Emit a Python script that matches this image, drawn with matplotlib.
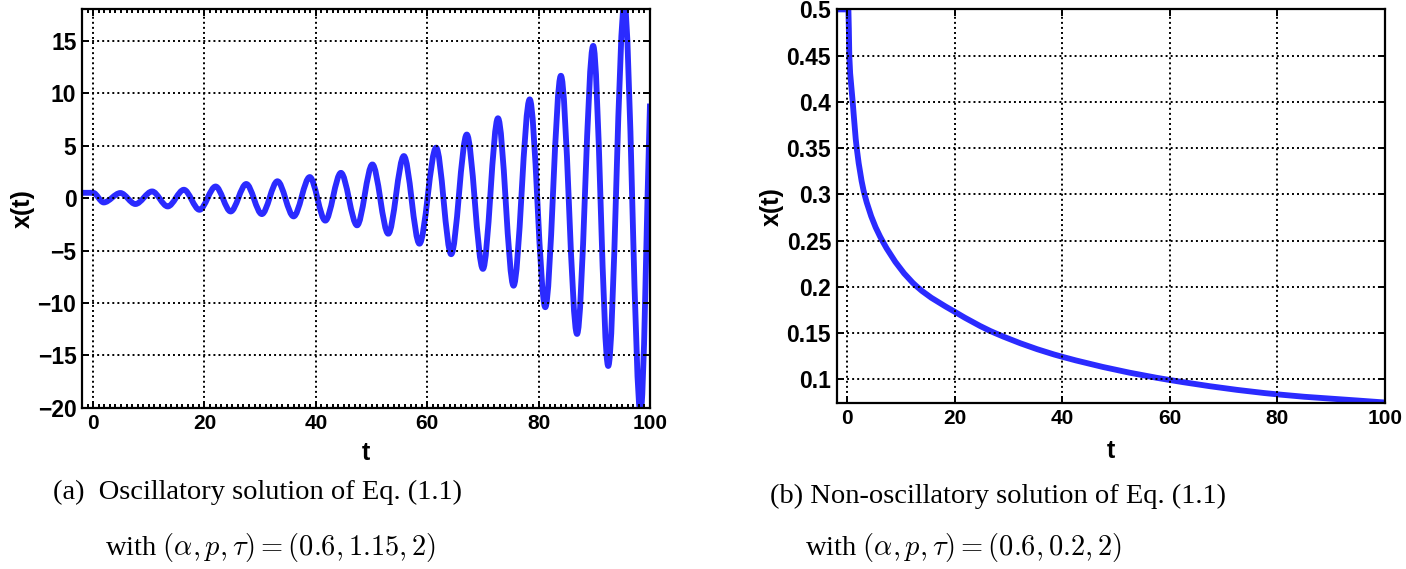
import matplotlib

matplotlib.use("Agg")

import matplotlib.pyplot as plt
import numpy as np
from matplotlib.patches import PathPatch
from matplotlib.path import Path
from matplotlib.ticker import MultipleLocator

# (a) oscillatory solution: turning points
osc_t = [-2, 0, 1.9, 4.9, 7.6, 10.6, 13.4, 16.3, 19.1, 22.0, 24.7, 27.5, 30.3,
         33.1, 36.0, 38.9, 41.7, 44.5, 47.4, 50.15, 53.0, 55.8, 58.6, 61.6,
         64.3, 67.1, 70.0, 72.7, 75.5, 78.4, 81.2, 84.0, 86.9, 89.8, 92.5,
         95.4, 98.3, 100]
osc_x = [0.5, 0.5, -0.42, 0.48, -0.57, 0.63, -0.8, 0.79, -1.12, 1.1, -1.28,
         1.34, -1.53, 1.6, -1.75, 2.0, -2.15, 2.4, -2.6, 3.2, -3.4, 4.0, -4.35,
         4.8, -5.35, 6.05, -6.75, 7.6, -8.35, 9.4, -10.4, 11.65, -12.95, 14.5,
         -16.0, 18.5, -20.5, 9.0]

# (b) non-oscillatory solution
non_t = [-2, 0.2, 0.37, 1.0, 1.75, 3.2, 6.5, 13, 20, 27.5, 40, 60, 80, 100]
non_x = [0.5, 0.5, 0.45, 0.4, 0.35, 0.3, 0.25, 0.2, 0.173, 0.15, 0.1244,
         0.0993, 0.0838, 0.075]

osc_yticks = [-20, -15, -10, -5, 0, 5, 10, 15]
non_yticks = [0.1, 0.15, 0.2, 0.25, 0.3, 0.35, 0.4, 0.45, 0.5]
non_ylabels = ["0.1", "0.15", "0.2", "0.25", "0.3", "0.35", "0.4", "0.45", "0.5"]
xticks = [0, 20, 40, 60, 80, 100]

LINE_COLOR = "#2b2bff"
SANS = "Liberation Sans"
LABEL_FONT = {"family": SANS, "weight": "bold", "size": 18}
CAPTION_FONT = {"family": "Liberation Serif", "size": 20.5}

plt.rcParams["mathtext.fontset"] = "cm"


def smooth_path(xs, ys):
    # monotone cubic (pchip-style) tangents, drawn as bezier segments
    x = np.asarray(xs, dtype=float)
    y = np.asarray(ys, dtype=float)
    h = np.diff(x)
    d = np.diff(y) / h
    m = np.zeros_like(x)
    m[0] = d[0]
    m[-1] = d[-1]
    for k in range(1, len(x) - 1):
        if d[k - 1] * d[k] > 0:
            w1 = 2 * h[k] + h[k - 1]
            w2 = h[k] + 2 * h[k - 1]
            m[k] = (w1 + w2) / (w1 / d[k - 1] + w2 / d[k])

    verts = [(x[0], y[0])]
    codes = [Path.MOVETO]
    for k in range(len(x) - 1):
        step = h[k] / 3
        verts += [
            (x[k] + step, y[k] + m[k] * step),
            (x[k + 1] - step, y[k + 1] - m[k + 1] * step),
            (x[k + 1], y[k + 1]),
        ]
        codes += [Path.CURVE4] * 3
    return Path(verts, codes)


def draw_curve(ax, xs, ys):
    patch = PathPatch(smooth_path(xs, ys), facecolor="none",
                      edgecolor=LINE_COLOR, linewidth=4.2,
                      joinstyle="round", capstyle="butt")
    ax.add_patch(patch)


def style_axes(ax):
    for spine in ax.spines.values():
        spine.set_linewidth(1.6)
    ax.tick_params(which="both", direction="in", top=True, right=True,
                   width=1.4)
    ax.tick_params(which="major", length=5, pad=4)
    ax.tick_params(axis="x", labelsize=15)
    ax.tick_params(axis="y", labelsize=16.5)
    ax.grid(True, which="major", color="black", linewidth=1.4,
            linestyle=(0, (1, 1.6)))
    for label in ax.get_xticklabels() + ax.get_yticklabels():
        label.set_fontfamily(SANS)
        label.set_fontweight("bold")


fig = plt.figure(figsize=(14.06, 5.69), dpi=100)

ax1 = fig.add_axes([0.0583, 0.283, 0.404, 0.701])
draw_curve(ax1, osc_t, osc_x)
ax1.set_xlim(-2, 100)
ax1.set_ylim(-20, 18)
ax1.set_xticks(xticks)
ax1.set_yticks(osc_yticks)
ax1.set_yticklabels([f"{v}".replace("-", "\u2212") for v in osc_yticks])
ax1.xaxis.set_minor_locator(MultipleLocator(1))
ax1.tick_params(axis="x", which="minor", direction="in", length=3,
                width=1.2, top=False)
style_axes(ax1)
ax1.set_xlabel("t", fontdict=LABEL_FONT, labelpad=6)
ax1.set_ylabel("x(t)", fontdict=LABEL_FONT, labelpad=2)

ax2 = fig.add_axes([0.595, 0.291, 0.390, 0.6925])
draw_curve(ax2, non_t, non_x)
ax2.set_xlim(-2, 100)
ax2.set_ylim(0.074, 0.5)
ax2.set_xticks(xticks)
ax2.set_yticks(non_yticks)
ax2.set_yticklabels(non_ylabels)
style_axes(ax2)
ax2.set_xlabel("t", fontdict=LABEL_FONT, labelpad=8)
ax2.set_ylabel("x(t)", fontdict=LABEL_FONT, labelpad=2)

fig.text(53 / 1406, 1 - 492 / 569, "(a)  Oscillatory solution of Eq. (1.1)",
         fontdict=CAPTION_FONT, ha="left", va="center")
fig.text(105 / 1406, 1 - 547 / 569,
         r"with $(\alpha, p, \tau) = (0.6, 1.15, 2)$",
         fontdict=CAPTION_FONT, ha="left", va="center")
fig.text(770 / 1406, 1 - 496 / 569, "(b) Non-oscillatory solution of Eq. (1.1)",
         fontdict=CAPTION_FONT, ha="left", va="center")
fig.text(805 / 1406, 1 - 547 / 569,
         r"with $(\alpha, p, \tau) = (0.6, 0.2, 2)$",
         fontdict=CAPTION_FONT, ha="left", va="center")

fig.savefig("out.png", dpi=100)
